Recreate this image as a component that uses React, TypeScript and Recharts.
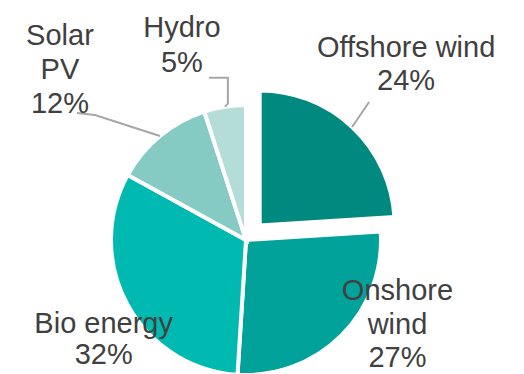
import { Cell, Pie, PieChart } from "recharts";

const categories = ["Offshore wind", "Onshore wind", "Bio energy", "Solar PV", "Hydro"];
const shares = [24, 27, 32, 12, 5];
const labelText = [["Offshore wind"], ["Onshore", "wind"], ["Bio energy"], ["Solar", "PV"], ["Hydro"]];

const colors = ["#008A7F", "#00A299", "#00B9B0", "#85CBC4", "#B4DCD9"];

// label offsets from the slice's outer mid point
const placement = [
  { dx: 54, dy: [-70, -37], leader: [[17, -25]] },
  { dx: 56, dy: [-35, -1, 32], leader: [] },
  { dx: -24, dy: [28, 59], leader: [] },
  { dx: -100, dy: [-91, -57, -23], leader: [[-65, -21], [-83, -23]] },
  { dx: -43, dy: [-70, -35], leader: [[3, -3], [3, -29], [-16, -29]] },
];

const data = categories.map((name, i) => ({ name, value: shares[i] }));

const CX = 246;
const CY = 240;
const R = 135;
const EXPLODE = 20;
const RAD = Math.PI / 180;
const explodeMid = 90 - (shares[0] / shares.reduce((a, b) => a + b, 0)) * 180;

function renderLabel(props: any, only: (i: number) => boolean) {
  const { cx, cy, midAngle, outerRadius, index } = props;
  if (!only(index)) return <g />;
  const ax = cx + outerRadius * Math.cos(-midAngle * RAD);
  const ay = cy + outerRadius * Math.sin(-midAngle * RAD);
  const p = placement[index];
  const pts = [[0, 0], ...p.leader].map(([x, y]) => `${ax + x},${ay + y}`).join(" ");
  const lines = [...labelText[index], `${shares[index]}%`];
  return (
    <g>
      {p.leader.length > 0 && (
        <polyline points={pts} fill="none" stroke="#A6A6A6" strokeWidth={2} />
      )}
      <text
        textAnchor="middle"
        fontFamily="'Liberation Sans', Arial, sans-serif"
        fontSize={29}
        fill="#404040"
      >
        {lines.map((t, k) => (
          <tspan key={k} x={ax + p.dx} y={ay + p.dy[k]}>
            {t}
          </tspan>
        ))}
      </text>
    </g>
  );
}

export default function App() {
  return (
    <div style={{ position: "absolute", left: 0, top: 0, background: "#fff" }}>
      <PieChart width={524} height={374} margin={{ top: 0, right: 0, bottom: 0, left: 0 }}>
        <Pie
          data={data}
          dataKey="value"
          nameKey="name"
          cx={CX}
          cy={CY}
          outerRadius={R}
          startAngle={90}
          endAngle={-270}
          stroke="#fff"
          strokeWidth={4}
          labelLine={false}
          label={(p: any) => renderLabel(p, (i) => i !== 0)}
          isAnimationActive={false}
        >
          {data.map((d, i) => (
            <Cell key={d.name} fill={i === 0 ? "none" : colors[i]} stroke={i === 0 ? "none" : "#fff"} />
          ))}
        </Pie>
        <Pie
          data={data}
          dataKey="value"
          nameKey="name"
          cx={CX + EXPLODE * Math.cos(explodeMid * RAD)}
          cy={CY - EXPLODE * Math.sin(explodeMid * RAD)}
          outerRadius={R}
          startAngle={90}
          endAngle={-270}
          stroke="#fff"
          strokeWidth={4}
          labelLine={false}
          label={(p: any) => renderLabel(p, (i) => i === 0)}
          isAnimationActive={false}
        >
          {data.map((d, i) => (
            <Cell key={d.name} fill={i === 0 ? colors[0] : "none"} stroke={i === 0 ? "#fff" : "none"} />
          ))}
        </Pie>
      </PieChart>
    </div>
  );
}
